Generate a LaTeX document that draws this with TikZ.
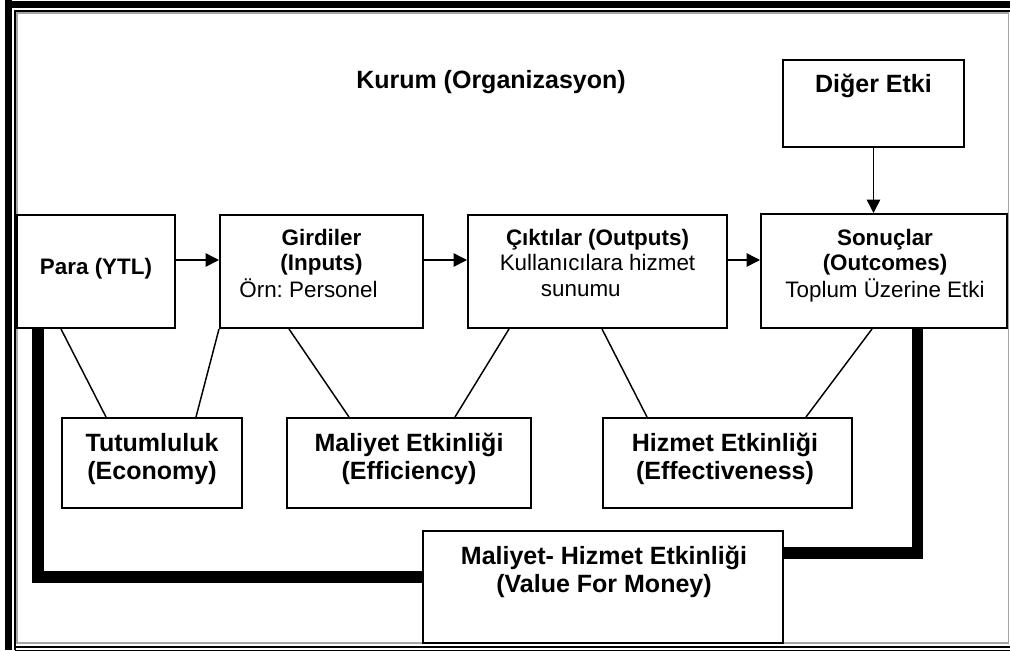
\documentclass[tikz,border=0pt]{standalone}
\usepackage{fontspec}
\setmainfont{Liberation Sans}
\usetikzlibrary{arrows.meta,calc,fit}
\frenchspacing

% one centred column whose first baseline is the node baseline
\newcommand\cellstack[1]{\begin{tabular}[t]{@{}c@{}}#1\end{tabular}}
\newcommand\topfont{\fontsize{16.8pt}{19.3pt}\selectfont}
\newcommand\lowfont{\fontsize{18.75pt}{21.6pt}\selectfont}

\begin{document}
\begin{tikzpicture}[x=0.75pt,y=-0.75pt,
  box/.style={draw, line width=1.5pt, inner sep=0pt},
  txt/.style={anchor=base, inner sep=0pt},
  toptxt/.style={txt, font=\topfont},
  lowtxt/.style={txt, font=\lowfont\bfseries},
  arr/.style={line width=1.1pt, -{Triangle[length=10pt,width=10pt]}},
  tie/.style={line width=1.1pt},
  heavy/.style={line width=8.5pt, line join=miter}]
\useasboundingbox (0,0) rectangle (1010,650);

% page border
\fill (5,0) rectangle (12,650);
\fill (5,1) rectangle (1010,8);
\draw[gray!70, line width=0.8pt] (17,13) rectangle (1008.5,643);
\draw[line width=1.3pt] (15,650) -- (15,11) -- (1010,11);
\draw[line width=1.3pt] (15,647) -- (1010,647);
\fill (15,649.5) rectangle (1010,651);

% boxes
\node[box, fit={(17,215) (175,328)}] (para) {};
\node[box, fit={(220,215) (423,328)}] (girdi) {};
\node[box, fit={(468,215) (727,328)}] (cikti) {};
\node[box, fit={(761,214) (1007,328)}] (sonuc) {};
\node[box, fit={(783,60) (964,147)}] (diger) {};
\node[box, fit={(62,418) (242,508)}] (tutum) {};
\node[box, fit={(287,418) (531,508)}] (maliyet) {};
\node[box, fit={(603,418) (852,508)}] (hizmet) {};
\node[box, fit={(423,531) (783,643)}] (vfm) {};

% texts
\node[lowtxt] (kurum) at (491,88) {Kurum (Organizasyon)};
\node[lowtxt] (digertxt) at (873.5,92) {Diğer Etki};
\node[toptxt] (paratxt) at (96,274) {\bfseries Para (YTL)};
\node[toptxt] (girditxt) at (321.5,245)
  {\cellstack{\bfseries Girdiler\\ \bfseries (Inputs)\\ Örn: Personel\hspace*{19.5pt}}};
\node[toptxt] (ciktitxt) at (597.5,245)
  {\cellstack{\bfseries Çıktılar (Outputs)\\ Kullanıcılara hizmet\\ sunumu\hspace*{25pt}}};
\node[toptxt] (sonuctxt) at (885,245)
  {\cellstack{\bfseries Sonuçlar\\ \bfseries (Outcomes)\\ Toplum Üzerine Etki}};
\node[lowtxt] (tutumtxt) at (152,451) {\cellstack{Tutumluluk\\ (Economy)}};
\node[lowtxt] (maliyettxt) at (409,451) {\cellstack{Maliyet Etkinliği\\ (Efficiency)}};
\node[lowtxt] (hizmettxt) at (725,451) {\cellstack{Hizmet Etkinliği\\ (Effectiveness)}};
\node[lowtxt] (vfmtxt) at (604,564) {\cellstack{Maliyet- Hizmet Etkinliği\\ (Value For Money)}};

% flow arrows
\coordinate (flow) at (0,260);
\draw[arr] (para.east |- flow) -- (girdi.west |- flow);
\draw[arr] (girdi.east |- flow) -- (cikti.west |- flow);
\draw[arr] (cikti.east |- flow) -- (sonuc.west |- flow);
\draw[arr] (diger.south) -- (diger.south |- sonuc.north);

% links to the measures
\draw[tie] ($(para.south west)+(45,0)$) -- ($(tutum.north west)+(45,0)$);
\draw[tie] (girdi.south west) -- ($(tutum.north west)+(135,0)$);
\draw[tie] ($(girdi.south west)+(70,0)$) -- ($(maliyet.north west)+(63,0)$);
\draw[tie] ($(cikti.south west)+(42,0)$) -- ($(maliyet.north west)+(169,0)$);
\draw[tie] ($(cikti.south west)+(135,0)$) -- ($(hizmet.north west)+(45,0)$);
\draw[tie] ($(sonuc.south west)+(112,0)$) -- ($(hizmet.north west)+(204,0)$);

% value-for-money brackets
\coordinate (lbar) at ($(para.south west)+(22,0)$);
\coordinate (lrow) at (0,577);
\draw[heavy] (lbar) -- (lbar |- lrow) -- (vfm.west |- lrow);
\coordinate (rbar) at ($(sonuc.south west)+(157.5,0)$);
\coordinate (rrow) at (0,553);
\draw[heavy] (rbar) -- (rbar |- rrow) -- (vfm.east |- rrow);
\end{tikzpicture}
\end{document}
